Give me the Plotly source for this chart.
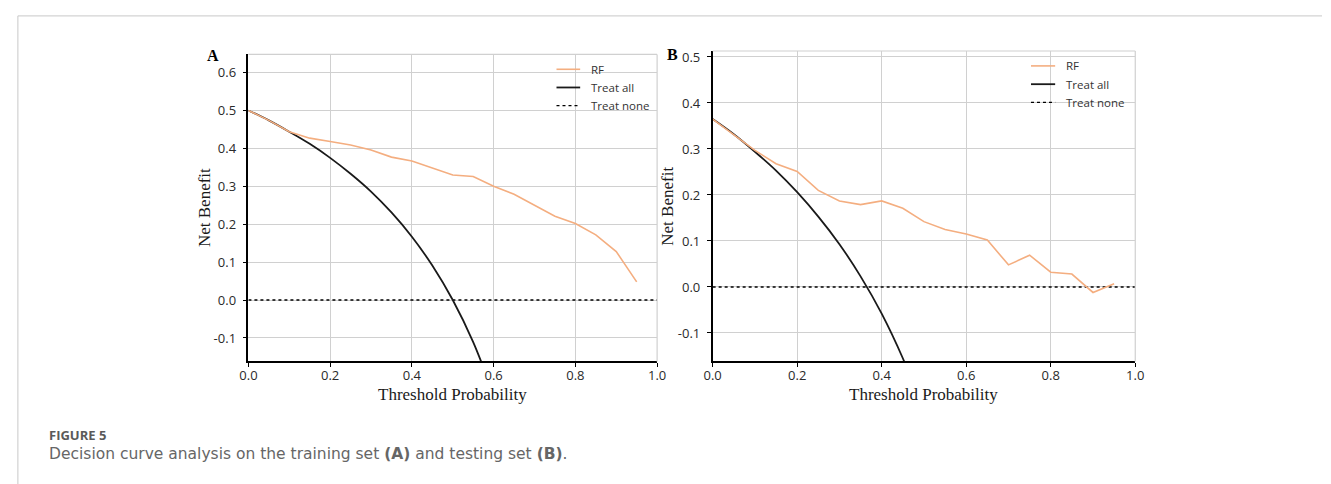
import plotly.graph_objects as go

W, H = 1331, 484

# ---------------- data ----------------
thr = [0.0, 0.05, 0.1, 0.15, 0.2, 0.25, 0.3, 0.35, 0.4, 0.45, 0.5, 0.55, 0.6, 0.65, 0.7, 0.75, 0.8, 0.85, 0.9, 0.95]
rf_train = [0.500, 0.474, 0.444, 0.427, 0.418, 0.409, 0.396, 0.377, 0.367, 0.348, 0.330, 0.326, 0.300, 0.279, 0.250, 0.221, 0.202, 0.172, 0.128, 0.048]
rf_test = [0.365, 0.332, 0.297, 0.268, 0.251, 0.210, 0.187, 0.179, 0.187, 0.171, 0.142, 0.125, 0.115, 0.102, 0.048, 0.069, 0.032, 0.028, -0.012, 0.007]

thr_all_train = [0.0, 0.05, 0.1, 0.15, 0.2, 0.25, 0.3, 0.35, 0.4, 0.45, 0.5, 0.55, 0.6]
all_train = [0.500, 0.474, 0.444, 0.412, 0.375, 0.333, 0.286, 0.231, 0.167, 0.091, 0.000, -0.111, -0.250]
thr_all_test = [0.0, 0.05, 0.1, 0.15, 0.2, 0.25, 0.3, 0.35, 0.4, 0.45, 0.5]
all_test = [0.365, 0.332, 0.294, 0.253, 0.206, 0.153, 0.093, 0.023, -0.058, -0.155, -0.270]

none_x = [0.0, 1.0]
none_y = [0.0, 0.0]

x_ticks = [0.0, 0.2, 0.4, 0.6, 0.8, 1.0]
y_ticks_a = [-0.1, 0.0, 0.1, 0.2, 0.3, 0.4, 0.5, 0.6]
y_ticks_b = [-0.1, 0.0, 0.1, 0.2, 0.3, 0.4, 0.5]
legend_names = ["RF", "Treat all", "Treat none"]

RF_COLOR = "#F4AE80"
GRID = "#D0D0D0"
SANS = "Open Sans, Noto Sans, sans-serif"
TICKFONT = dict(family=SANS, size=13, color="#2a2a2a")

def px(x):
    return x / W

def py(y):
    return 1 - y / H

fig = go.Figure()

panels = [
    dict(xa="x", ya="y", rf=rf_train, tx=thr_all_train, ty=all_train),
    dict(xa="x2", ya="y2", rf=rf_test, tx=thr_all_test, ty=all_test),
]
for p in panels:
    fig.add_trace(go.Scatter(x=none_x, y=none_y, mode="lines", xaxis=p["xa"], yaxis=p["ya"],
                             line=dict(color="black", width=1.4, dash="dot"), showlegend=False))
    fig.add_trace(go.Scatter(x=p["tx"], y=p["ty"], mode="lines", xaxis=p["xa"], yaxis=p["ya"],
                             line=dict(color="#1a1a1a", width=1.8, shape="spline"), showlegend=False))
    fig.add_trace(go.Scatter(x=thr, y=p["rf"], mode="lines", xaxis=p["xa"], yaxis=p["ya"],
                             line=dict(color=RF_COLOR, width=1.6), showlegend=False))

def xaxis(dom):
    return dict(domain=dom, range=[0, 1.0], tickvals=x_ticks, ticktext=[f"{v:.1f}" for v in x_ticks],
                showgrid=True, gridcolor=GRID, gridwidth=1.2, zeroline=False,
                showline=True, linecolor="black", linewidth=1.5,
                ticks="outside", ticklen=4, tickcolor="black", tickwidth=1.2,
                tickfont=TICKFONT, ticklabelstandoff=-3)

def yaxis(dom, rng, ticks, anchor):
    return dict(domain=dom, range=rng, tickvals=ticks, ticktext=[f"{v:.1f}" for v in ticks],
                showgrid=True, gridcolor=GRID, gridwidth=1.2, zeroline=False,
                showline=True, linecolor="black", linewidth=1.5,
                ticks="outside", ticklen=4, tickcolor="black", tickwidth=1.2,
                tickfont=TICKFONT, anchor=anchor, ticklabelstandoff=4)

y_bottom = py(360.7)
fig.update_layout(
    width=W, height=H, margin=dict(l=0, r=0, t=0, b=0),
    paper_bgcolor="white", plot_bgcolor="white", showlegend=False,
    xaxis=xaxis([px(242.7), px(657.0)]),
    yaxis=yaxis([y_bottom, py(51.7)], [-0.162, 0.648], y_ticks_a, "x"),
    xaxis2=dict(xaxis([px(713.3), px(1141.7)]), anchor="y2"),
    yaxis2=yaxis([y_bottom, py(48.3)], [-0.162, 0.513], y_ticks_b, "x2"),
)
fig.layout.xaxis.anchor = "y"

shapes = []
# light gray top/right borders of each plot
for xr, yr in [("x domain", "y domain"), ("x2 domain", "y2 domain")]:
    shapes.append(dict(type="line", xref=xr, yref=yr, x0=0, x1=1, y0=1, y1=1, line=dict(color=GRID, width=1.2)))
    shapes.append(dict(type="line", xref=xr, yref=yr, x0=1, x1=1, y0=0, y1=1, line=dict(color=GRID, width=1.2)))
# outer frame
shapes.append(dict(type="line", xref="paper", yref="paper", x0=px(9), x1=1, y0=py(13), y1=py(13), line=dict(color="#C8C8C8", width=1)))
shapes.append(dict(type="line", xref="paper", yref="paper", x0=px(9), x1=px(9), y0=py(13), y1=0, line=dict(color="#C8C8C8", width=1)))

annotations = []
# legends (manual)
styles = [dict(color=RF_COLOR, width=1.6), dict(color="#1a1a1a", width=1.8), dict(color="black", width=1.4, dash="dot")]
for (lx0, lx1, tx, rows) in [(555, 579, 588, [66.7, 85.0, 103.3]), (1036, 1060.5, 1069, [63.3, 81.7, 100.0])]:
    for name, st, ry in zip(legend_names, styles, rows):
        shapes.append(dict(type="line", xref="paper", yref="paper", x0=px(lx0), x1=px(lx1), y0=py(ry), y1=py(ry), line=st))
        annotations.append(dict(text=name, x=px(tx), y=py(ry), xref="paper", yref="paper", xanchor="left", yanchor="middle",
                                showarrow=False, font=dict(family=SANS, size=11.5, color="#333333")))

SERIF = "Liberation Serif, Times New Roman, serif"
# axis titles
for cx in [449.8, 927.5]:
    annotations.append(dict(text="Threshold Probability", x=px(cx), y=py(394), xref="paper", yref="paper",
                            xanchor="center", yanchor="middle", showarrow=False, font=dict(family=SERIF, size=17, color="#1a1a1a")))
for cx, cy in [(198, 206), (668, 204)]:
    annotations.append(dict(text="Net Benefit", x=px(cx), y=py(cy), xref="paper", yref="paper", textangle=-90,
                            xanchor="center", yanchor="middle", showarrow=False, font=dict(family=SERIF, size=17, color="#1a1a1a")))
# panel letters
annotations.append(dict(text="<b>A</b>", x=px(207), y=py(53), xref="paper", yref="paper", xanchor="center", yanchor="middle",
                        showarrow=False, font=dict(family=SERIF, size=16, color="black")))
annotations.append(dict(text="<b>B</b>", x=px(673), y=py(52), xref="paper", yref="paper", xanchor="center", yanchor="middle",
                        showarrow=False, font=dict(family=SERIF, size=16, color="black")))
# caption
annotations.append(dict(text="<b>FIGURE 5</b>", x=px(39), y=py(435), xref="paper", yref="paper", xanchor="left", yanchor="middle",
                        showarrow=False, font=dict(family=SANS, size=13, color="#5a5a5a")))
annotations.append(dict(text="Decision curve analysis on the training set <b>(A)</b> and testing set <b>(B)</b>.",
                        x=px(39), y=py(454), xref="paper", yref="paper", xanchor="left", yanchor="middle",
                        showarrow=False, font=dict(family="DejaVu Sans, sans-serif", size=15.5, color="#666666")))

fig.update_layout(shapes=shapes, annotations=annotations)
fig.write_html("out.html")
